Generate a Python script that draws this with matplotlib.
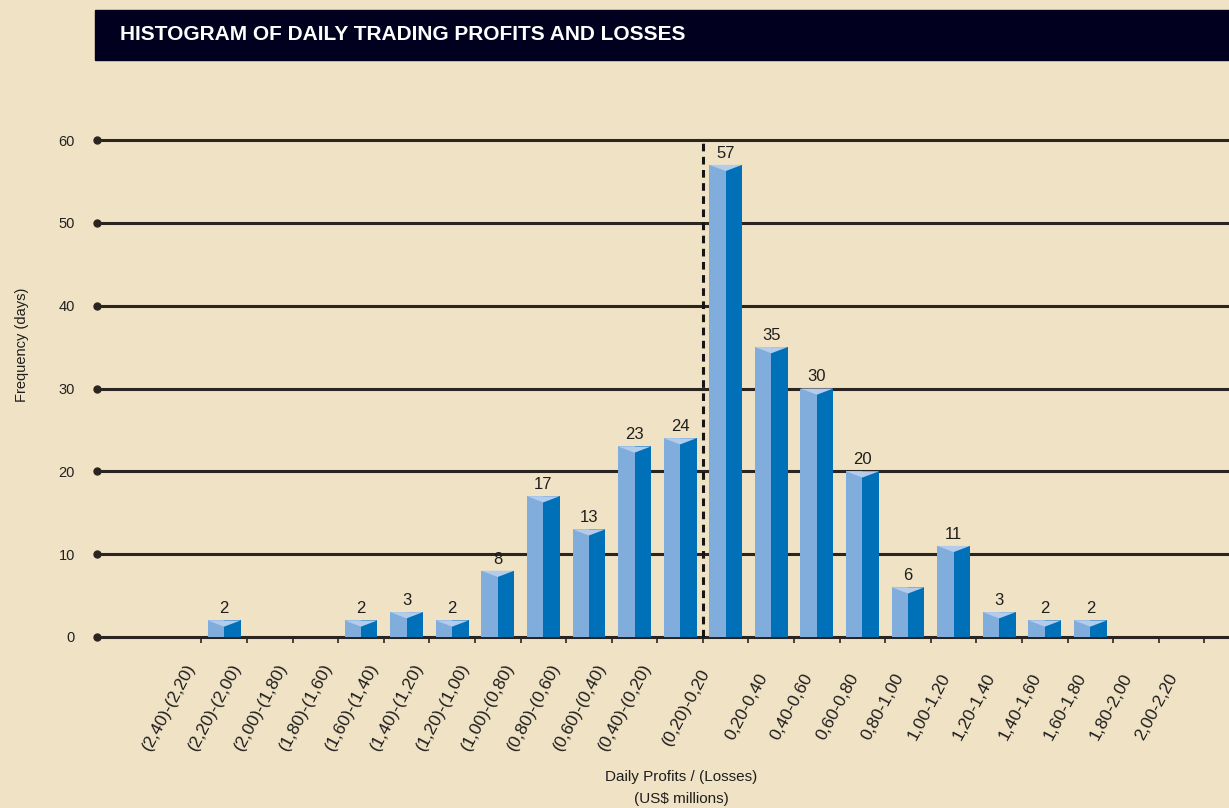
import matplotlib
matplotlib.use("Agg")
import matplotlib.pyplot as plt
import matplotlib.transforms as mtransforms
from matplotlib.patches import Rectangle

# ---------------- data ----------------
bin_labels = [
    "(2,40)-(2,20)", "(2,20)-(2,00)", "(2,00)-(1,80)", "(1,80)-(1,60)",
    "(1,60)-(1,40)", "(1,40)-(1,20)", "(1,20)-(1,00)", "(1,00)-(0,80)",
    "(0,80)-(0,60)", "(0,60)-(0,40)", "(0,40)-(0,20)",
    "(0,20)-0,20",
    "0,20-0,40", "0,40-0,60", "0,60-0,80", "0,80-1,00", "1,00-1,20",
    "1,20-1,40", "1,40-1,60", "1,60-1,80", "1,80-2,00", "2,00-2,20",
]
frequency = [2, 0, 0, 2, 3, 2, 8, 17, 13, 23, 24,
             57, 35, 30, 20, 6, 11, 3, 2, 2, 0, 0]
y_ticks = [0, 10, 20, 30, 40, 50, 60]
zero_edge = 10.5

title = "HISTOGRAM OF DAILY TRADING PROFITS AND LOSSES"
x_title = "Daily Profits / (Losses)"
x_unit = "(US$ millions)"
y_title = "Frequency (days)"

# ---------------- style ----------------
BG = "#F0E2C4"
NAVY = "#01011F"
LINE = "#2A2520"
LIGHT = "#80ADDB"
DARK = "#0070B8"
TOP = "#B3CCEC"

W, H = 1229, 808
plt.rcParams["font.family"] = ["Liberation Sans", "DejaVu Sans"]

fig = plt.figure(figsize=(W / 100, H / 100), dpi=100, facecolor=BG)
ax = fig.add_axes([97 / W, (H - 637) / H, 1 - 97 / W, (637 - 140) / H])
ax.set_facecolor("none")
xmin, xmax = -2.79, 22.04
ax.set_xlim(xmin, xmax)
ax.set_ylim(0, 60)
for s in ax.spines.values():
    s.set_visible(False)

# grid lines with dot at left end
for yv in y_ticks:
    ax.plot([xmin, xmax], [yv, yv], color=LINE, lw=2.2, zorder=1,
            clip_on=False, solid_capstyle="butt")
    ax.plot([xmin], [yv], marker="o", ms=5, color=LINE, zorder=1, clip_on=False)

ax.set_yticks(y_ticks)
ax.set_yticklabels([str(v) for v in y_ticks])
ax.tick_params(axis="y", length=0, pad=16, labelsize=10.5, labelcolor="#222222")

# bin-edge tick marks
edges = [i - 0.5 for i in range(len(frequency) + 1)]
ax.set_xticks(edges)
ax.set_xticklabels([""] * len(edges))
ax.tick_params(axis="x", direction="out", length=4, width=1.2, color=LINE)

# bars (pseudo 3D prism)
w = 0.72
d = 0.75
xs = list(range(len(frequency)))
ax.bar([x - w / 4 for x in xs], frequency, width=w / 2, color=LIGHT, zorder=3, lw=0)
ax.bar([x + w / 4 for x in xs], frequency, width=w / 2, color=DARK, zorder=3, lw=0)
for x, h in zip(xs, frequency):
    if h > 0:
        ax.fill([x - w / 2, x + w / 2, x], [h, h, h - d], color=TOP, zorder=4, lw=0)
        ax.annotate(str(h), (x, h), xytext=(0, 3), textcoords="offset points",
                    ha="center", va="bottom", fontsize=12, color="#1E1E1E", zorder=5)

# zero dashed line
ax.plot([zero_edge, zero_edge], [0, 60], color="#151515", lw=2.2,
        ls=(0, (2.5, 1.8)), zorder=5, clip_on=False)

# rotated bin labels
trans = mtransforms.blended_transform_factory(ax.transData, ax.transAxes)
for x, lab in zip(xs, bin_labels):
    shift = (25 + 7.5 * (len(lab) - 9)) / 100.0
    off = mtransforms.ScaledTranslation(-shift, -0.70, fig.dpi_scale_trans)
    ax.text(x, 0, lab, transform=trans + off, rotation=62, rotation_mode="anchor",
            ha="center", va="center", fontsize=12.5, color="#1E1E1E")

# title bar
fig.patches.append(Rectangle((95 / W, 1 - 60 / H), 1 - 95 / W, 50 / H,
                             transform=fig.transFigure, color=NAVY, zorder=0))
fig.text(120 / W, 1 - 35 / H, title, color="white", fontsize=15,
         fontweight="bold", ha="left", va="center")

# axis titles
fig.text(681 / W, 1 - 777 / H, x_title, ha="center", va="center",
         fontsize=11, color="#1E1E1E")
fig.text(681 / W, 1 - 799 / H, x_unit, ha="center", va="center",
         fontsize=11, color="#1E1E1E")
fig.text(22 / W, 1 - 345 / H, y_title, rotation=90, ha="center", va="center",
         fontsize=10.5, color="#1E1E1E")

fig.savefig("out.png", dpi=100, facecolor=BG)
